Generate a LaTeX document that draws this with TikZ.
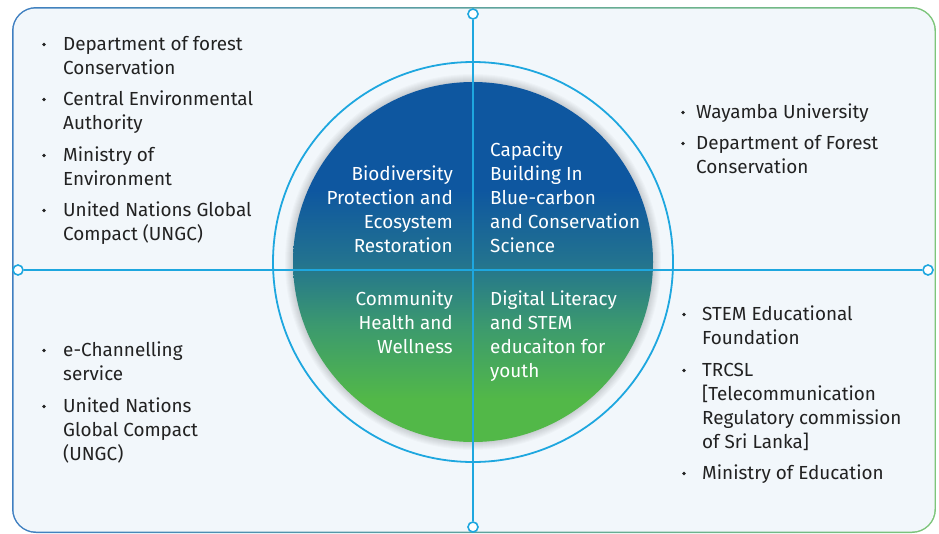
\documentclass[tikz,border=0pt]{standalone}
\usepackage{fontspec}
\setmainfont{Fira Sans}
\usetikzlibrary{positioning,calc}

\definecolor{frameblue}{HTML}{3F7FC1}
\definecolor{framegreen}{HTML}{7DC57A}
\definecolor{panel}{HTML}{F2F7FB}
\definecolor{axis}{HTML}{1EA7DF}
\definecolor{ink}{HTML}{222222}
\definecolor{hubtop}{HTML}{0E57A0}
\definecolor{hubmid}{HTML}{23738F}
\definecolor{hubmix}{HTML}{3C9A6E}
\definecolor{hubgreen}{HTML}{52B848}

\pgfdeclareverticalshading{hubshade}{100bp}{color(0bp)=(hubgreen); color(31bp)=(hubgreen); color(41bp)=(hubmix); color(50bp)=(hubmid); color(60bp)=(hubtop); color(100bp)=(hubtop)}

% first line on the baseline
\newcommand{\stackl}[1]{\begin{tabular}[t]{@{}l@{}}#1\end{tabular}}
\newcommand{\stackr}[1]{\begin{tabular}[t]{@{}r@{}}#1\end{tabular}}

\begin{document}
\begin{tikzpicture}[x=1pt, y=-1pt,
  entry/.style={anchor=base west, inner sep=0pt, font=\fontsize{18.9}{24}\selectfont, text=ink},
  hubtxt/.style={inner sep=0pt, text=white, font=\fontsize{18.9}{24}\selectfont},
  axisline/.style={draw=axis, line width=1.8pt},
  endcap/.style={circle, draw=axis, fill=white, line width=1.6pt, minimum size=10pt, inner sep=0pt},
]
\useasboundingbox (0,0) rectangle (939,533);

% frame
\shade[left color=frameblue, right color=framegreen, rounded corners=24pt] (12,7) rectangle (936,533);
\fill[panel, rounded corners=22.5pt] (13.5,8.5) rectangle (934.5,531.5);

% hub
\coordinate (hub) at (473,262);
\foreach \r in {1,...,8} \fill[black, opacity=0.02] (hub) circle (180+\r);
\shade[shading=hubshade] (hub) circle (180);
\draw[axis, line width=1.8pt] (hub) circle (200);

% axes
\node[endcap] (top) at (473,14) {};
\node[endcap] (bottom) at (473,527) {};
\node[endcap] (left) at (18,270) {};
\node[endcap] (right) at (928,270) {};
\draw[axisline] (top) -- (bottom);
\draw[axisline] (left) -- (right);

% quadrant themes
\node[hubtxt, anchor=base east] (bio) at (453,180) {\stackr{Biodiversity\\Protection and\\Ecosystem\\Restoration}};
\node[hubtxt, anchor=base west] (cap) at (490,156) {\stackl{Capacity\\Building In\\Blue-carbon\\and Conservation\\Science}};
\node[hubtxt, anchor=base east] (com) at (453,305) {\stackr{Community\\Health and\\Wellness}};
\node[hubtxt, anchor=base west] (dig) at (490,305) {\stackl{Digital Literacy\\and STEM\\educaiton for\\youth}};

% partners
\node[entry] (tl1) at (63,50) {\stackl{Department of forest\\Conservation}};
\node[entry] (tl2) at (63,105) {\stackl{Central Environmental\\Authority}};
\node[entry] (tl3) at (63,161) {\stackl{Ministry of\\Environment}};
\node[entry] (tl4) at (63,216) {\stackl{United Nations Global\\Compact (UNGC)}};
\node[entry] (tr1) at (696,118) {Wayamba University};
\node[entry] (tr2) at (696,149) {\stackl{Department of Forest\\Conservation}};
\node[entry] (bl1) at (63,356) {\stackl{e-Channelling\\service}};
\node[entry] (bl2) at (63,412) {\stackl{United Nations\\Global Compact\\(UNGC)}};
\node[entry] (br1) at (702,320) {\stackl{STEM Educational\\Foundation}};
\node[entry] (br2) at (702,376) {\stackl{TRCSL\\{[}Telecommunication\\Regulatory commission\\of Sri Lanka{]}}};
\node[entry] (br3) at (702,479) {Ministry of Education};

\foreach \n/\d in {tl1/19,tl2/19,tl3/19,tl4/19,tr1/13,tr2/13,bl1/19,bl2/19,br1/18,br2/18,br3/18}
  \fill[ink] ($(\n.base west)+(-\d,-5.5)$) circle (1.8);
\end{tikzpicture}
\end{document}
